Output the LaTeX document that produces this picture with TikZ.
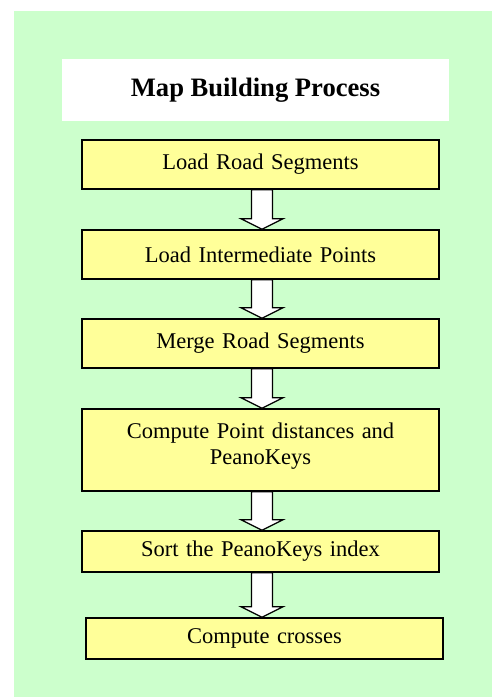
\documentclass[tikz,border=0pt]{standalone}
\usepackage{fontspec}
\setmainfont{Liberation Serif}
\usetikzlibrary{calc}
\definecolor{bggreen}{HTML}{CCFFCC}
\definecolor{boxyellow}{HTML}{FFFF99}
\tikzset{
  stepbox/.style={draw=black, line width=1.5pt, fill=boxyellow, inner sep=0pt,
    font=\fontsize{22.5}{26}\selectfont, align=center, text width=340pt},
  titlebox/.style={fill=white, inner sep=0pt, font=\bfseries\fontsize{26.6}{30}\selectfont},
  blockarrow/.style={draw=black, line width=1.3pt, fill=white, line join=miter}
}
\newcommand{\blockarr}[2]{%
  \path[blockarrow] let \p1=(#1.south), \p2=(#2.north) in
    (\x1+1.5pt-10.5pt,\y1) -- (\x1+1.5pt-10.5pt,\y2+10.5pt) -- (\x1+1.5pt-21pt,\y2+10.5pt)
    -- (\x1+1.5pt,\y2) -- (\x1+1.5pt+21pt,\y2+10.5pt) -- (\x1+1.5pt+10.5pt,\y2+10.5pt)
    -- (\x1+1.5pt+10.5pt,\y1) -- cycle;}
\newcommand{\liftup}[2]{\raisebox{#1}[\height][\depth]{#2}}
\begin{document}
\begin{tikzpicture}[x=1pt,y=1pt]
\useasboundingbox (0,0) rectangle (492,-697);
\fill[white] (0,0) rectangle (492,-697);
\fill[bggreen] (14,-11) rectangle (492,-697);
\node[titlebox, minimum width=387pt, minimum height=62pt] (title) at (255.5,-90) {Map Building Process};
\node[stepbox, minimum width=357pt, minimum height=49pt] (b1) at (260.5,-164.5) {Load Road Segments};
\node[stepbox, minimum width=357pt, minimum height=49pt] (b2) at (260.5,-254.5) {Load Intermediate Points};
\node[stepbox, minimum width=357pt, minimum height=49pt] (b3) at (260.5,-343.5) {Merge Road Segments};
\node[stepbox, minimum width=357pt, minimum height=82pt] (b4) at (260.5,-450) {\liftup{4pt}{\begin{tabular}{@{}c@{}}Compute Point distances and\\PeanoKeys\end{tabular}}};
\node[stepbox, minimum width=357pt, minimum height=41pt] (b5) at (260.5,-551.5) {Sort the PeanoKeys index};
\node[stepbox, minimum width=357pt, minimum height=41pt] (b6) at (264.5,-638.5) {Compute crosses};
\blockarr{b1}{b2}
\blockarr{b2}{b3}
\blockarr{b3}{b4}
\blockarr{b4}{b5}
\blockarr{b5}{b6}
\end{tikzpicture}
\end{document}
